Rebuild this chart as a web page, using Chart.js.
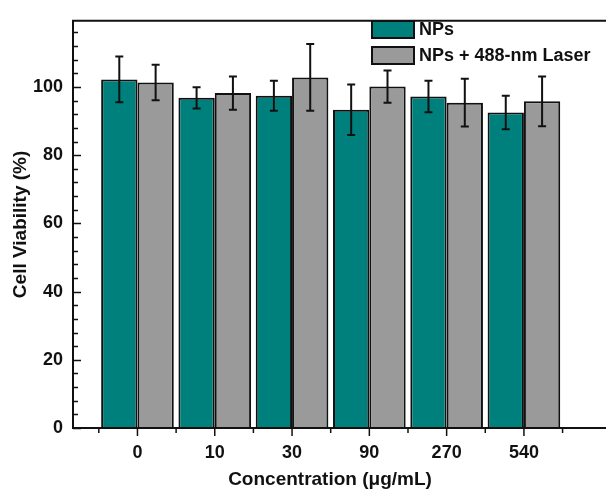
<!DOCTYPE html>
<html>
<head>
<meta charset="utf-8">
<script src="https://cdn.jsdelivr.net/npm/chart.js@4.4.0/dist/chart.umd.min.js"></script>
<style>
  html, body { margin: 0; padding: 0; background: #fff; overflow: hidden; }
</style>
</head>
<body>
<canvas id="chart" width="606" height="490"></canvas>
<script>
// Data
const concentrations = ['0', '10', '30', '90', '270', '540'];
const npsViability   = [102.2, 96.8, 97.4, 93.3, 97.2, 92.5];
const npsError       = [6.7, 3.1, 4.4, 7.4, 4.6, 4.9];
const laserViability = [101.3, 98.2, 102.8, 100.1, 95.4, 95.8];
const laserError     = [5.2, 4.9, 9.8, 4.7, 7.0, 7.3];
const yTickLabels    = [0, 20, 40, 60, 80, 100];

const TEAL = '#00807c';
const GRAY = '#9a9a9a';
const FONT = "'Liberation Sans', Arial, sans-serif";

// error bars drawn from each bar element + y scale
const errorBars = {
  id: 'errorBars',
  afterDatasetsDraw(chart) {
    const ctx = chart.ctx;
    const yScale = chart.scales.y;
    const errs = [npsError, laserError];
    ctx.save();
    ctx.strokeStyle = '#111';
    ctx.lineWidth = 2;
    chart.data.datasets.forEach((ds, di) => {
      const meta = chart.getDatasetMeta(di);
      meta.data.forEach((bar, i) => {
        const v = ds.data[i].y;
        const e = errs[di][i];
        const yt = yScale.getPixelForValue(v + e);
        const yb = yScale.getPixelForValue(v - e);
        ctx.beginPath();
        ctx.moveTo(bar.x, yt); ctx.lineTo(bar.x, yb);
        ctx.moveTo(bar.x - 4, yt); ctx.lineTo(bar.x + 4, yt);
        ctx.moveTo(bar.x - 4, yb); ctx.lineTo(bar.x + 4, yb);
        ctx.stroke();
      });
    });
    ctx.restore();
  }
};

// frame + tick marks (inward on y, outward on x, like the original plot).
// The original is cropped on the right, so top/bottom lines run to the edge.
const frameTicks = {
  id: 'frameTicks',
  afterDraw(chart) {
    const ctx = chart.ctx;
    const {left, top, bottom} = chart.chartArea;
    const edge = chart.width;
    const x = chart.scales.x, y = chart.scales.y;
    ctx.save();
    ctx.strokeStyle = '#111';
    ctx.lineWidth = 2;
    ctx.beginPath();
    ctx.moveTo(left, top); ctx.lineTo(edge, top);
    ctx.moveTo(left, top - 1); ctx.lineTo(left, bottom + 1);
    ctx.moveTo(left - 1, bottom); ctx.lineTo(edge, bottom);
    ctx.stroke();

    ctx.lineWidth = 1.5;
    ctx.beginPath();
    y.ticks.forEach(t => {
      const py = Math.round(y.getPixelForValue(t.value)) + 0.5;
      const len = t.value % 20 === 0 ? 8 : 5;
      ctx.moveTo(left, py); ctx.lineTo(left + len, py);
    });
    concentrations.forEach((c, i) => {
      const px = x.getPixelForValue(i);
      ctx.moveTo(px, bottom); ctx.lineTo(px, bottom + 8);
    });
    for (let i = 0; i <= concentrations.length; i++) {
      const px = x.getPixelForValue(i - 0.5);
      ctx.moveTo(px, bottom); ctx.lineTo(px, bottom + 5);
    }
    ctx.stroke();
    ctx.restore();
  }
};

// legend inside the plot, top right
const boxLegend = {
  id: 'boxLegend',
  afterDraw(chart) {
    const ctx = chart.ctx;
    ctx.save();
    ctx.font = 'bold 18px ' + FONT;
    ctx.textBaseline = 'middle';
    chart.data.datasets.forEach((ds, i) => {
      const by = 21 + i * 26;
      ctx.fillStyle = ds.backgroundColor;
      ctx.fillRect(372, by, 42, 17);
      ctx.strokeStyle = '#111';
      ctx.lineWidth = 2;
      ctx.strokeRect(372, by, 42, 17);
      ctx.fillStyle = '#111';
      ctx.fillText(ds.label, 419, by + 9);
    });
    ctx.restore();
  }
};

new Chart(document.getElementById('chart'), {
  type: 'bar',
  data: {
    datasets: [
      {
        label: 'NPs',
        data: npsViability.map((v, i) => ({x: i, y: v})),
        backgroundColor: TEAL,
        borderColor: '#111',
        borderWidth: 2
      },
      {
        label: 'NPs + 488-nm Laser',
        data: laserViability.map((v, i) => ({x: i, y: v})),
        backgroundColor: GRAY,
        borderColor: '#111',
        borderWidth: 2
      }
    ]
  },
  options: {
    responsive: false,
    animation: false,
    devicePixelRatio: 1,
    categoryPercentage: 0.94,
    barPercentage: 1.0,
    layout: { padding: { top: 16, right: 19, bottom: 0, left: 0 } },
    plugins: { legend: { display: false }, tooltip: { enabled: false } },
    scales: {
      x: {
        type: 'linear',
        offset: false,
        min: -0.834,
        max: 5.816,
        grid: { display: false, drawTicks: false },
        border: { display: false },
        afterBuildTicks: (scale) => { scale.ticks = concentrations.map((c, i) => ({value: i})); },
        afterFit: (scale) => { scale.height = 62; },
        ticks: {
          autoSkip: false,
          maxRotation: 0,
          padding: 14,
          color: '#111',
          font: { family: FONT, size: 18, weight: 'bold' },
          callback: (v) => concentrations[v] ?? ''
        },
        title: {
          display: true,
          text: 'Concentration (\u03bcg/mL)',
          color: '#111',
          font: { family: FONT, size: 19, weight: 'bold', lineHeight: 1 },
          padding: { top: 0, bottom: 1 }
        }
      },
      y: {
        min: 0,
        max: 119.4,
        grid: { display: false, drawTicks: false },
        border: { display: false },
        afterFit: (scale) => { scale.width = 73; },
        ticks: {
          stepSize: 4,
          includeBounds: false,
          autoSkip: false,
          padding: 10,
          color: '#111',
          font: { family: FONT, size: 18, weight: 'bold' },
          callback: (v) => yTickLabels.includes(v) ? String(v) : ''
        },
        title: {
          display: true,
          text: 'Cell Viability (%)',
          color: '#111',
          font: { family: FONT, size: 19, weight: 'bold', lineHeight: 1 },
          padding: { top: 11, bottom: 0 }
        }
      }
    }
  },
  plugins: [errorBars, frameTicks, boxLegend]
});
</script>
</body>
</html>
